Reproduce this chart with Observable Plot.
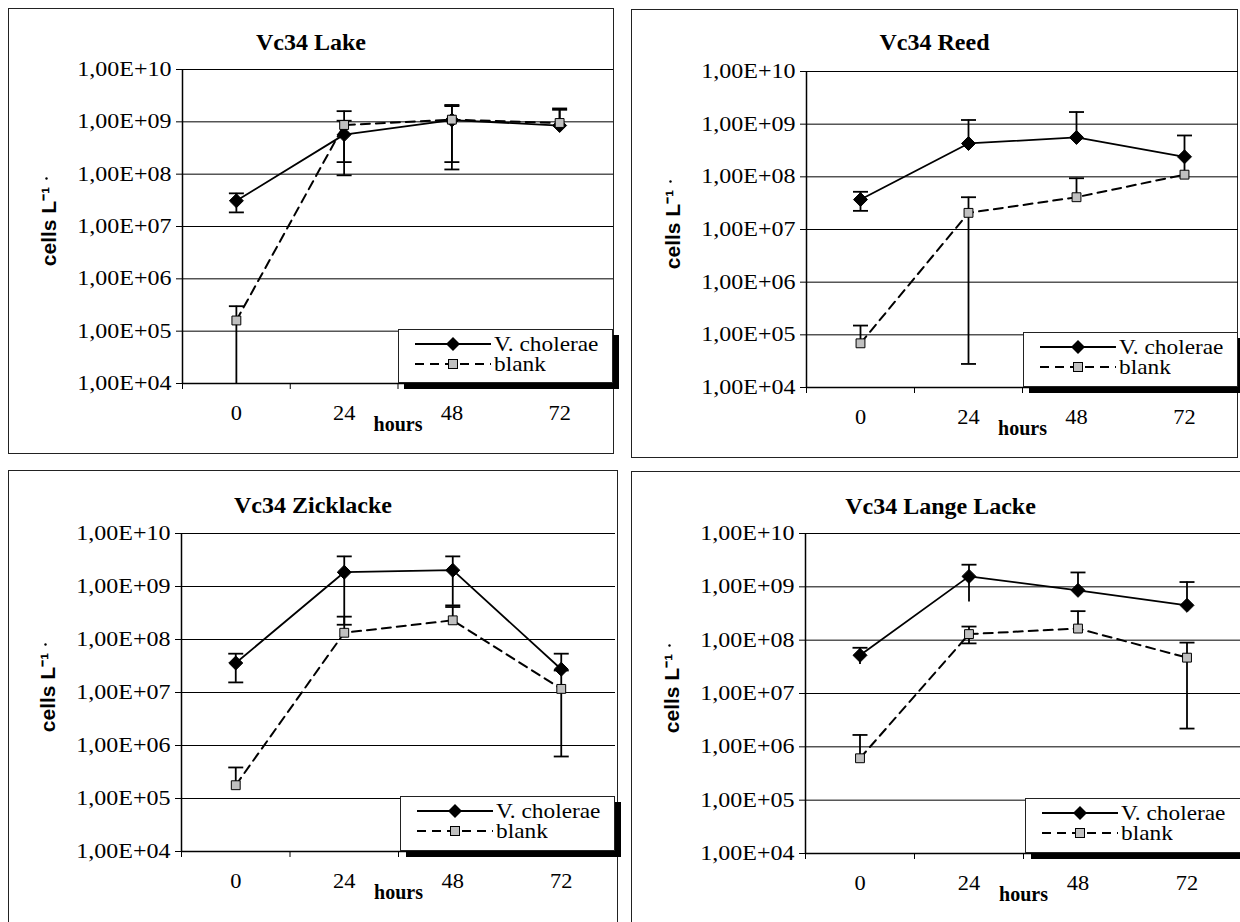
<!DOCTYPE html>
<html>
<head>
<meta charset="utf-8">
<script src="https://cdn.jsdelivr.net/npm/d3@7"></script>
<script src="https://cdn.jsdelivr.net/npm/@observablehq/plot@0.6"></script>
<style>
  html, body { margin: 0; padding: 0; background: #fff; }
  body { width: 1240px; height: 922px; overflow: hidden; position: relative; font-family: "Liberation Serif", "Times New Roman", serif; }
  .frame { position: absolute; border: 1px solid #222; box-sizing: border-box; }
  .chart { position: absolute; }
  .title { position: absolute; text-align: center; font: bold 24px/28px "Liberation Serif", serif; color: #000; white-space: nowrap; }
  .legend { position: absolute; background: #fff; border: 1px solid #222; box-sizing: border-box; box-shadow: 6px 6px 0 #000; }
  .legend .row { position: absolute; left: 16px; height: 19px; line-height: 19px; display: flex; align-items: center; font-size: 22px; font-family: "Liberation Serif", serif; color: #000; white-space: nowrap; }
  .legend .row span { display: inline-block; transform: scaleX(1.06); transform-origin: left center; }
  .legend svg { margin-right: 3px; flex: none; }
</style>
</head>
<body>
<script>
// ---------------- data ----------------
const hours = [0, 24, 48, 72];
const bandEdges = [-12, 12, 36, 60, 84];
const yTicks = [1e4, 1e5, 1e6, 1e7, 1e8, 1e9, 1e10];
const panelTitles = ["Vc34 Lake", "Vc34 Reed", "Vc34 Zicklacke", "Vc34 Lange Lacke"];
const seriesNames = ["V. cholerae", "blank"];
const xLabel = "hours";
const yLabel = "cells L\u207B\u00B9";

// Vc34 Lake
const lakeCholerae   = [3.1e7, 5.7e8, 1.08e9, 8.5e8];
const lakeCholeraeLo = [1.86e7, 9.5e7, 1.23e8, null];
const lakeCholeraeHi = [4.3e7, 1.05e9, 2.1e9, 1.7e9];
const lakeBlank      = [1.6e5, 8.7e8, 1.1e9, 9.5e8];
const lakeBlankLo    = [0, 1.7e8, 1.7e8, null];
const lakeBlankHi    = [3.0e5, 1.6e9, 2.0e9, 1.8e9];

// Vc34 Reed
const reedCholerae   = [3.7e7, 4.3e8, 5.6e8, 2.4e8];
const reedCholeraeLo = [2.26e7, null, null, 1.15e8];
const reedCholeraeLoCap = [true, true, true, false];
const reedCholeraeHi = [5.2e7, 1.2e9, 1.7e9, 6.1e8];
const reedBlank      = [6.9e4, 2.07e7, 4.1e7, 1.1e8];
const reedBlankLo    = [null, 2.8e4, null, null];
const reedBlankHi    = [1.5e5, 4.1e7, 9.4e7, null];

// Vc34 Zicklacke
const zickCholerae   = [3.6e7, 1.86e9, 2.03e9, 2.75e7];
const zickCholeraeLo = [1.55e7, 1.9e8, 4.4e8, null];
const zickCholeraeHi = [5.4e7, 3.7e9, 3.7e9, 5.4e7];
const zickBlank      = [1.78e5, 1.34e8, 2.3e8, 1.17e7];
const zickBlankLo    = [null, null, null, 6.2e5];
const zickBlankHi    = [3.85e5, 2.7e8, 4.1e8, 2.6e7];

// Vc34 Lange Lacke
const langeCholerae   = [5.2e7, 1.57e9, 8.6e8, 4.5e8];
const langeCholeraeLo = [3.5e7, 5.2e8, null, null];
const langeCholeraeLoCap = [false, false, true, true];
const langeCholeraeHi = [7.2e7, 2.6e9, 1.86e9, 1.23e9];
const langeBlank      = [6.1e5, 1.3e8, 1.65e8, 4.7e7];
const langeBlankLo    = [null, 8.7e7, null, 2.2e6];
const langeBlankHi    = [1.67e6, 1.8e8, 3.5e8, 9.0e7];

// ---------------- layout (pixels) ----------------
const layouts = [
  {frame: [8, 8, 614, 454],      plot: [182, 69, 613, 383],   legend: [398, 329, 613, 383],   titleY: 42},
  {frame: [631, 9, 1238, 458],   plot: [806, 71, 1238, 387],  legend: [1023, 332, 1238, 387], titleY: 42},
  {frame: [8, 470, 618, 940],    plot: [181, 533, 615, 851],  legend: [400, 796, 615, 851],   titleY: 505},
  {frame: [631, 471, 1250, 940], plot: [805, 533, 1241, 853], legend: [1025, 798, 1250, 853], titleY: 506}
];

const panelData = [
  [[lakeCholerae, lakeCholeraeLo, lakeCholeraeHi], [lakeBlank, lakeBlankLo, lakeBlankHi]],
  [[reedCholerae, reedCholeraeLo, reedCholeraeHi, reedCholeraeLoCap], [reedBlank, reedBlankLo, reedBlankHi]],
  [[zickCholerae, zickCholeraeLo, zickCholeraeHi], [zickBlank, zickBlankLo, zickBlankHi]],
  [[langeCholerae, langeCholeraeLo, langeCholeraeHi, langeCholeraeLoCap], [langeBlank, langeBlankLo, langeBlankHi]]
];

const yMin = yTicks[0], yMax = yTicks[yTicks.length - 1];
const fmt = d => "1,00E+" + String(Math.round(Math.log10(d))).padStart(2, "0");

const capSymbol = {
  draw(context, size) {
    const r = Math.sqrt(size / Math.PI);
    context.moveTo(-r, 0);
    context.lineTo(r, 0);
  }
};

function rows([vals, lo, hi, loCap]) {
  return hours.map((t, i) => ({t, v: vals[i], lo: lo[i], hi: hi[i], loCap: loCap ? loCap[i] : true}));
}
function caps(data) {
  const out = [];
  for (const d of data) {
    if (d.hi != null) out.push({t: d.t, y: d.hi});
    if (d.lo != null && d.lo >= yMin && d.loCap) out.push({t: d.t, y: d.lo});
  }
  return out;
}
const barLo = d => d.lo == null ? d.v : Math.max(d.lo, yMin);
const barHi = d => d.hi == null ? d.v : d.hi;

// widen glyphs horizontally (the reference fonts are horizontally stretched)
function stretch(svg, label, sx) {
  svg.querySelectorAll(`g[aria-label="${label}"] text`).forEach(t => {
    const tr = t.getAttribute("transform") || "";
    const xa = t.getAttribute("x");
    if (xa != null && xa !== "" && !isNaN(+xa)) t.setAttribute("x", +xa / sx);
    t.setAttribute("transform", `${tr} scale(${sx},1)`);
  });
}

function legendHTML(L) {
  const [x0, y0, x1, y1] = L;
  const sw1 = `<svg width="76" height="16"><line x1="0" y1="8" x2="76" y2="8" stroke="#000" stroke-width="1.8"/><polygon points="38,1 45,8 38,15 31,8" fill="#000"/></svg>`;
  const sw2 = `<svg width="76" height="16"><line x1="0" y1="8" x2="76" y2="8" stroke="#000" stroke-width="1.8" stroke-dasharray="9,6"/><rect x="33.5" y="3.5" width="9" height="9" fill="#c0c0c0" stroke="#000" stroke-width="1"/></svg>`;
  return `<div class="legend" style="left:${x0}px;top:${y0}px;width:${x1 - x0}px;height:${y1 - y0}px">
    <div class="row" style="top:4px">${sw1}<span>${seriesNames[0]}</span></div>
    <div class="row" style="top:24px">${sw2}<span>${seriesNames[1]}</span></div>
  </div>`;
}

layouts.forEach((lay, p) => {
  const [fx0, fy0, fx1, fy1] = lay.frame;
  const [px0, py0, px1, py1] = lay.plot;
  const W = fx1 - fx0, H = fy1 - fy0;
  const chol = rows(panelData[p][0]);
  const blank = rows(panelData[p][1]);

  const frame = document.createElement("div");
  frame.className = "frame";
  Object.assign(frame.style, {left: fx0 + "px", top: fy0 + "px", width: W + "px", height: H + "px"});
  document.body.appendChild(frame);

  const chart = Plot.plot({
    width: W,
    height: H,
    marginLeft: px0 - fx0,
    marginRight: fx1 - px1,
    marginTop: py0 - fy0,
    marginBottom: fy1 - py1,
    style: {background: "transparent", color: "#000", fontFamily: "'Liberation Serif', serif", fontSize: "20px", overflow: "visible"},
    x: {domain: [bandEdges[0], bandEdges[bandEdges.length - 1]], axis: null},
    y: {type: "log", domain: [yMin, yMax], axis: null},
    marks: [
      Plot.gridY(yTicks, {stroke: "#000", strokeOpacity: 1, strokeWidth: 1}),
      Plot.axisY(yTicks, {tickSize: 6, tickPadding: 5, tickFormat: fmt, label: null, fontSize: 20}),
      Plot.axisX(bandEdges, {tickSize: 6, tickFormat: () => "", label: null}),
      Plot.axisX(hours, {tickSize: 0, tickPadding: 22, label: null, fontSize: 20}),
      Plot.ruleX([bandEdges[0]], {stroke: "#000", strokeWidth: 1.5}),
      Plot.ruleY([yMin], {stroke: "#000", strokeWidth: 1.5}),
      Plot.text([xLabel], {ariaLabel: "x-title", frameAnchor: "bottom", dy: 41, lineAnchor: "middle", textAnchor: "middle", fontWeight: "bold", fontSize: 20}),
      Plot.text([yLabel], {ariaLabel: "y-title", frameAnchor: "left", dx: -133, rotate: -90, textAnchor: "middle", lineAnchor: "middle", fontWeight: "bold", fontSize: 21, fontFamily: "'Liberation Sans', Arial, sans-serif"}),
      Plot.dot([0], {ariaLabel: "y-dot", frameAnchor: "left", dx: -136, dy: -48, r: 1.2, fill: "#000", stroke: null}),
      Plot.line(chol, {x: "t", y: "v", stroke: "#000", strokeWidth: 1.8}),
      Plot.line(blank, {x: "t", y: "v", stroke: "#000", strokeWidth: 2, strokeDasharray: "9,6"}),
      Plot.ruleX(chol, {x: "t", y1: barLo, y2: barHi, stroke: "#000", strokeWidth: 1.8}),
      Plot.ruleX(blank, {x: "t", y1: barLo, y2: barHi, stroke: "#000", strokeWidth: 1.8}),
      Plot.dot(caps(chol), {x: "t", y: "y", symbol: capSymbol, r: 7.5, stroke: "#000", strokeWidth: 1.8, fill: "none"}),
      Plot.dot(caps(blank), {x: "t", y: "y", symbol: capSymbol, r: 7.5, stroke: "#000", strokeWidth: 1.8, fill: "none"}),
      Plot.dot(chol, {x: "t", y: "v", symbol: "diamond2", r: 6.3, fill: "#000", stroke: "#000", strokeWidth: 1}),
      Plot.dot(blank, {x: "t", y: "v", symbol: "square", r: 5, fill: "#c0c0c0", stroke: "#000", strokeWidth: 1})
    ]
  });
  stretch(chart, "y-axis tick label", 1.2);
  stretch(chart, "x-axis tick label", 1.12);
  stretch(chart, "x-title", 1.2);
  chart.classList.add("chart");
  chart.style.left = fx0 + "px";
  chart.style.top = fy0 + "px";
  document.body.appendChild(chart);

  const title = document.createElement("div");
  title.className = "title";
  title.textContent = panelTitles[p];
  Object.assign(title.style, {left: fx0 + "px", width: W + "px", top: (lay.titleY - 14) + "px"});
  document.body.appendChild(title);

  document.body.insertAdjacentHTML("beforeend", legendHTML(lay.legend));
});
</script>
</body>
</html>
